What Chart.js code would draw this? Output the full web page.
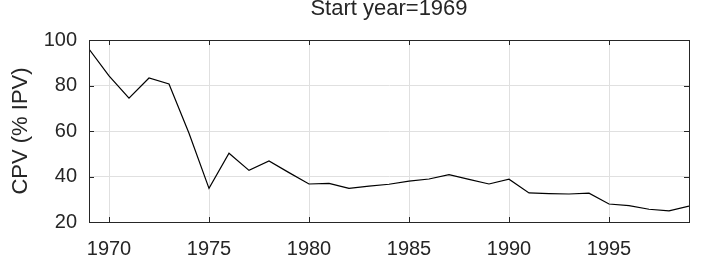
<!DOCTYPE html>
<html>
<head>
<meta charset="utf-8">
<script src="https://cdn.jsdelivr.net/npm/chart.js@4.4.1/dist/chart.umd.min.js"></script>
<style>
  html, body { margin: 0; padding: 0; background: #fff; }
  #wrap { width: 728px; height: 273px; }
</style>
</head>
<body>
<div id="wrap"><canvas id="cpv"></canvas></div>
<script>
const years = [1969, 1970, 1971, 1972, 1973, 1974, 1975, 1976, 1977, 1978,
  1979, 1980, 1981, 1982, 1983, 1984, 1985, 1986, 1987, 1988,
  1989, 1990, 1991, 1992, 1993, 1994, 1995, 1996, 1997, 1998, 1999]
const cpv = [96, 84.2, 74.4, 83.3, 80.7, 59, 34.8, 50.2, 42.7, 46.8,
  41.7, 36.7, 37, 34.8, 35.8, 36.6, 38, 38.9, 40.8, 38.7,
  36.7, 38.8, 32.8, 32.5, 32.3, 32.7, 27.9, 27.2, 25.6, 24.9, 27]
const xTicks = [1970, 1975, 1980, 1985, 1990, 1995]
const yTicks = [20, 40, 60, 80, 100]

const ink = '#262626'
const fontFamily = '"Liberation Sans", Arial, sans-serif'

// MATLAB-style box and inward tick marks
const boxTicks = {
  id: 'boxTicks',
  afterDraw(chart) {
    const { ctx, chartArea: a, scales: { x, y } } = chart
    const len = 5
    ctx.save()
    ctx.strokeStyle = ink
    ctx.lineWidth = 1
    ctx.beginPath()
    xTicks.forEach(v => {
      const px = Math.round(x.getPixelForValue(v)) + 0.5
      ctx.moveTo(px, a.bottom); ctx.lineTo(px, a.bottom - len)
      ctx.moveTo(px, a.top); ctx.lineTo(px, a.top + len)
    })
    yTicks.forEach(v => {
      const py = Math.round(y.getPixelForValue(v)) + 0.5
      ctx.moveTo(a.left, py); ctx.lineTo(a.left + len, py)
      ctx.moveTo(a.right, py); ctx.lineTo(a.right - len, py)
    })
    ctx.stroke()
    ctx.strokeRect(Math.round(a.left) + 0.5, Math.round(a.top) + 0.5,
      Math.round(a.right - a.left), Math.round(a.bottom - a.top))
    ctx.restore()
  }
}

new Chart(document.getElementById('cpv'), {
  type: 'line',
  data: {
    datasets: [{
      data: years.map((yr, i) => ({ x: yr, y: cpv[i] })),
      borderColor: '#000',
      borderWidth: 1.2,
      pointRadius: 0,
      tension: 0,
      fill: false
    }]
  },
  plugins: [boxTicks],
  options: {
    responsive: true,
    maintainAspectRatio: false,
    animation: false,
    layout: { padding: { left: 0, right: 39, top: 0, bottom: 0 } },
    plugins: {
      legend: { display: false },
      tooltip: { enabled: false },
      title: {
        display: true,
        text: 'Start year=1969',
        color: ink,
        fullSize: false,
        font: { family: fontFamily, size: 22, weight: 'normal', lineHeight: 0.8 },
        padding: { top: 0, bottom: 22.4 }
      }
    },
    scales: {
      x: {
        type: 'linear',
        min: 1969,
        max: 1999,
        afterBuildTicks: s => { s.ticks = xTicks.map(v => ({ value: v })) },
        afterFit: s => { s.height = 51 },
        grid: { color: '#e0e0e0', drawTicks: false },
        border: { display: true, color: ink },
        ticks: {
          color: ink,
          padding: 15,
          maxRotation: 0,
          font: { family: fontFamily, size: 20 },
          callback: v => String(v)
        }
      },
      y: {
        min: 20,
        max: 100,
        afterBuildTicks: s => { s.ticks = yTicks.map(v => ({ value: v })) },
        afterFit: s => { s.width = 89 },
        grid: { color: '#e0e0e0', drawTicks: false },
        border: { display: true, color: ink },
        title: {
          display: true,
          text: 'CPV (% IPV)',
          color: ink,
          font: { family: fontFamily, size: 22 },
          padding: { top: 8, bottom: 0 }
        },
        ticks: {
          color: ink,
          padding: 12,
          font: { family: fontFamily, size: 20 }
        }
      }
    }
  }
})
</script>
</body>
</html>
